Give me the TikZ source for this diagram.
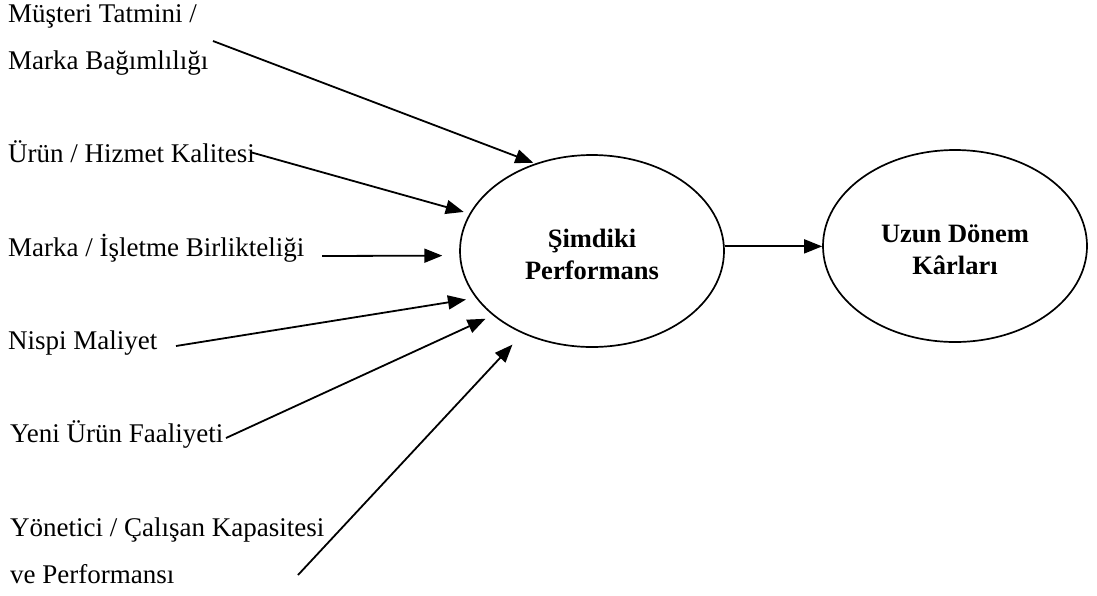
\documentclass[tikz,border=0pt]{standalone}
\usepackage{fontspec}
\setmainfont{Liberation Serif}
\usetikzlibrary{shapes.geometric,arrows.meta}
\begin{document}
\begin{tikzpicture}[x=1pt,y=-1pt,
  factor/.style={anchor=base west,inner sep=0pt,align=left,
    font=\fontsize{27}{46.5}\selectfont},
  goal/.style={draw,ellipse,line width=1.7pt,minimum width=264pt,
    minimum height=192pt,inner sep=0pt,align=center,
    font=\fontsize{26.5}{32}\selectfont\bfseries},
  link/.style={line width=1.8pt,-{Triangle[length=18pt,width=14pt]}}]
\useasboundingbox (0,0) rectangle (1097,595);

% the two outcome ellipses (the strut lowers the two-line text a little)
\node[goal] (perf) at (592,251) {\rule{0pt}{26pt}Şimdiki\\Performans};
\node[goal] (prof) at (955,246) {\rule{0pt}{26pt}Uzun Dönem\\Kârları};

% driver labels (base anchor sits on the last line)
\node[factor] (f1) at (8,69)  {Müşteri Tatmini /\\Marka Bağımlılığı};
\node[factor] (f2) at (8,162) {Ürün / Hizmet Kalitesi};
\node[factor] (f3) at (8,256) {Marka / İşletme Birlikteliği};
\node[factor] (f4) at (8,349) {Nispi Maliyet};
\node[factor] (f5) at (10,442) {Yeni Ürün Faaliyeti};
\node[factor] (f6) at (10,583) {Yönetici / Çalışan Kapasitesi\\ve Performansı};

% arrow tails
\coordinate (t1) at (213,41);
\coordinate (t2) at (250,152);
\coordinate (t3) at (322,256);
\coordinate (t4) at (176,346);
\coordinate (t5) at (226,438);
\coordinate (t6) at (298,575);

\draw[link,shorten >=2pt]  (t1) -- (perf.123.2);
\draw[link,shorten >=6pt]  (t2) -- (perf.163.6);
\draw[link] (t3) -- ([xshift=-17pt]perf.182);
\draw[link,shorten >=10pt] (t4) -- (perf.202);
\draw[link,shorten >=8pt]  (t5) -- (perf.213.3);
\draw[link,shorten >=15pt] (t6) -- (perf.230.4);

% current performance drives long-term profits
\draw[link] (perf.2.6) -- (perf.2.6 -| prof.west);
\end{tikzpicture}
\end{document}
